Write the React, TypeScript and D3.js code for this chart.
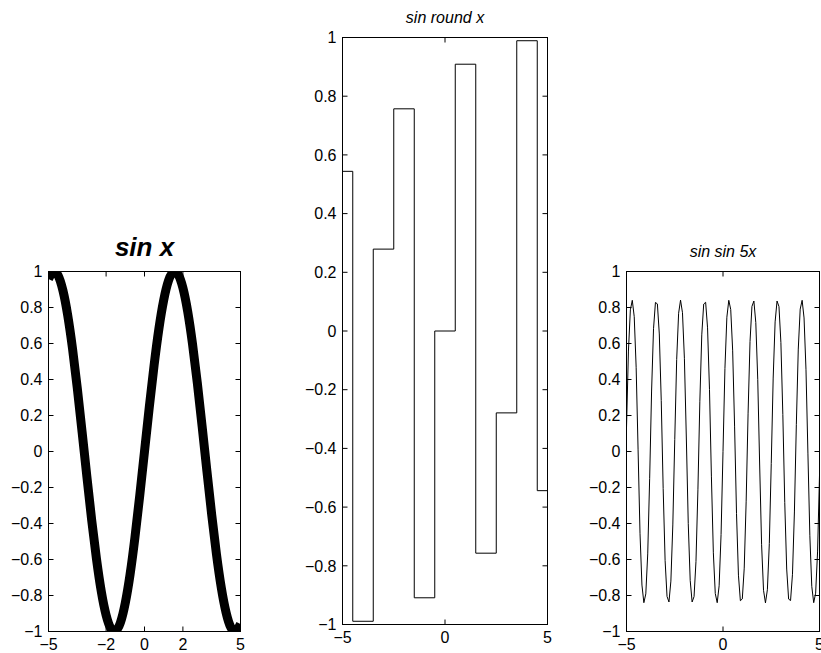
import React from "react";
import * as d3 from "d3";

// ---- data ----
// panel 1: sin x, sampled every 0.25
const sinX = [-5, -4.75, -4.5, -4.25, -4, -3.75, -3.5, -3.25, -3, -2.75, -2.5, -2.25, -2, -1.75, -1.5, -1.25, -1, -0.75, -0.5, -0.25, 0, 0.25, 0.5, 0.75, 1, 1.25, 1.5, 1.75, 2, 2.25, 2.5, 2.75, 3, 3.25, 3.5, 3.75, 4, 4.25, 4.5, 4.75, 5];
const sinY = [0.959, 0.999, 0.978, 0.895, 0.757, 0.572, 0.351, 0.108, -0.141, -0.382, -0.598, -0.778, -0.909, -0.984, -0.997, -0.949, -0.841, -0.682, -0.479, -0.247, 0, 0.247, 0.479, 0.682, 0.841, 0.949, 0.997, 0.984, 0.909, 0.778, 0.598, 0.382, 0.141, -0.108, -0.351, -0.572, -0.757, -0.895, -0.978, -0.999, -0.959];

// panel 2: step plot, edges and levels
const stepEdges = [-5, -4.5, -3.5, -2.5, -1.5, -0.5, 0.5, 1.5, 2.5, 3.5, 4.5, 5];
const stepLevels = [0.544, -0.989, 0.279, 0.757, -0.909, 0, 0.909, -0.757, -0.279, 0.989, -0.544, -0.544];

// panel 3: sin sin 5x, sampled every 0.1 from -5 to 5
const ssY = [
  0.132, 0.558, 0.787, 0.840, 0.749, 0.468, 0.009, -0.454, -0.742, -0.840,
  -0.791, -0.569, -0.149, 0.336, 0.682, 0.828, 0.820, 0.653, 0.284, -0.205,
  -0.605, -0.805, -0.836, -0.720, -0.408, 0.066, 0.511, 0.768, 0.841, 0.771,
  0.518, 0.075, -0.401, -0.716, -0.836, -0.806, -0.611, -0.213, 0.276, 0.648,
  0.819, 0.829, 0.687, 0.344, -0.141, -0.563, -0.789, -0.840, -0.746, -0.461,
  0,
  0.461, 0.746, 0.840, 0.789, 0.563, 0.141, -0.344, -0.687, -0.829, -0.819,
  -0.648, -0.276, 0.213, 0.611, 0.806, 0.836, 0.716, 0.401, -0.075, -0.518,
  -0.771, -0.841, -0.768, -0.511, -0.066, 0.408, 0.720, 0.836, 0.805, 0.605,
  0.205, -0.284, -0.653, -0.820, -0.828, -0.682, -0.336, 0.149, 0.569, 0.791,
  0.840, 0.742, 0.454, -0.009, -0.468, -0.749, -0.840, -0.787, -0.558, -0.132,
];
const ssX = d3.range(ssY.length).map((i) => -5 + i * 0.1);

const yTicks = [-1, -0.8, -0.6, -0.4, -0.2, 0, 0.2, 0.4, 0.6, 0.8, 1];
const xTicks1 = [-5, -2, 0, 2, 5];
const xTicks23 = [-5, 0, 5];
const titles = ["sin x", "sin round x", "sin sin 5x"];

const fmt = (v: number) => {
  const s = String(Math.round(v * 10) / 10);
  return s.replace("-", "\u2212");
};

type Panel = { l: number; r: number; t: number; b: number };
const panels: Panel[] = [
  { l: 48.5, r: 240.5, t: 271.5, b: 631.5 },
  { l: 342.5, r: 547.5, t: 37.5, b: 624.5 },
  { l: 626.5, r: 819.5, t: 271.5, b: 631.5 },
];

const FONT = "Liberation Sans, Arial, Helvetica, sans-serif";

function Axes({ p, xTicks, id, children }: { p: Panel; xTicks: number[]; id: string; children: (x: any, y: any) => React.ReactNode }) {
  const x = d3.scaleLinear().domain([-5, 5]).range([p.l, p.r]);
  const y = d3.scaleLinear().domain([-1, 1]).range([p.b, p.t]);
  const tl = 5;
  return (
    <g>
      <defs>
        <clipPath id={id}>
          <rect x={p.l} y={p.t} width={p.r - p.l} height={p.b - p.t} />
        </clipPath>
      </defs>
      <g clipPath={`url(#${id})`}>{children(x, y)}</g>
      <rect x={p.l} y={p.t} width={p.r - p.l} height={p.b - p.t} fill="none" stroke="#000" strokeWidth={1} />
      {yTicks.map((v) => (
        <g key={"y" + v}>
          <line x1={p.l} x2={p.l + tl} y1={y(v)} y2={y(v)} stroke="#000" />
          <line x1={p.r} x2={p.r - tl} y1={y(v)} y2={y(v)} stroke="#000" />
          <text x={p.l - 6} y={y(v)} dy="0.36em" textAnchor="end" fontSize={16} fontFamily={FONT}>
            {fmt(v)}
          </text>
        </g>
      ))}
      {xTicks.map((v) => (
        <g key={"x" + v}>
          <line x1={x(v)} x2={x(v)} y1={p.b} y2={p.b - tl} stroke="#000" />
          <line x1={x(v)} x2={x(v)} y1={p.t} y2={p.t + tl} stroke="#000" />
          <text x={x(v)} y={p.b + 18} textAnchor="middle" fontSize={16} fontFamily={FONT}>
            {fmt(v)}
          </text>
        </g>
      ))}
    </g>
  );
}

export default function App() {
  const line = d3.line<[number, number]>();
  return (
    <svg width={821} height={653} style={{ position: "absolute", left: 0, top: 0, background: "#fff" }}>
      <rect width={821} height={653} fill="#fff" />
      <Axes p={panels[0]} xTicks={xTicks1} id="c1">
        {(x, y) => (
          <path
            d={d3.line<number>().x((_, i) => x(sinX[i])).y((d) => y(d)).curve(d3.curveNatural)(sinY) || ""}
            fill="none"
            stroke="#000"
            strokeWidth={9}
          />
        )}
      </Axes>
      <text x={(panels[0].l + panels[0].r) / 2} y={256} textAnchor="middle" fontSize={26} fontWeight="bold" fontStyle="italic" fontFamily={FONT}>
        {titles[0]}
      </text>

      <Axes p={panels[1]} xTicks={xTicks23} id="c2">
        {(x, y) => (
          <path
            d={d3.line<number>().x((d) => x(d)).y((_, i) => y(stepLevels[i])).curve(d3.curveStepAfter)(stepEdges) || ""}
            fill="none"
            stroke="#000"
            strokeWidth={1}
          />
        )}
      </Axes>
      <text x={(panels[1].l + panels[1].r) / 2} y={23} textAnchor="middle" fontSize={16} fontStyle="italic" fontFamily={FONT}>
        {titles[1]}
      </text>

      <Axes p={panels[2]} xTicks={xTicks23} id="c3">
        {(x, y) => (
          <path
            d={d3.line<number>().x((d) => x(d)).y((_, i) => y(ssY[i]))(ssX) || ""}
            fill="none"
            stroke="#000"
            strokeWidth={1}
          />
        )}
      </Axes>
      <text x={(panels[2].l + panels[2].r) / 2} y={257} textAnchor="middle" fontSize={16} fontStyle="italic" fontFamily={FONT}>
        {titles[2]}
      </text>
    </svg>
  );
}
